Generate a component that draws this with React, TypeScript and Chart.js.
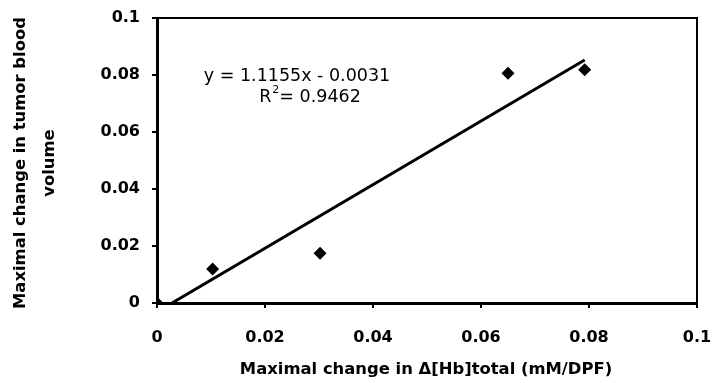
import React, { useEffect, useRef } from "react";
import { Chart, registerables } from "chart.js";

Chart.register(...registerables);

const xValues = [0, 0.0103, 0.0302, 0.065, 0.0792];
const yValues = [0, 0.0119, 0.0175, 0.0806, 0.0818];
const slope = 1.1155;
const intercept = -0.0031;
const equationText = "y = 1.1155x - 0.0031";
const r2Value = "= 0.9462";
const xTitle = "Maximal change in \u0394[Hb]total (mM/DPF)";
const yTitleLines = ["Maximal change in tumor blood", "volume"];

const FONT = "'DejaVu Sans', 'Liberation Sans', Arial, sans-serif";

const fmt = (v: any) => (v === 0 ? "0" : v >= 0.1 ? "0.1" : Number(v).toFixed(2));

export default function App() {
  const ref = useRef<HTMLCanvasElement>(null);
  useEffect(() => {
    if (!ref.current) return;
    const points = xValues.map((x, i) => ({ x, y: yValues[i] }));
    const xStart = -intercept / slope;
    const xEnd = Math.max(...xValues);
    const trend = [
      { x: xStart, y: slope * xStart + intercept },
      { x: xEnd, y: slope * xEnd + intercept },
    ];
    const textPlugin = {
      id: "texts",
      afterDraw(chart: any) {
        const ctx = chart.ctx;
        const { left, right, top, bottom } = chart.chartArea;
        ctx.save();
        ctx.strokeStyle = "#000";
        ctx.lineWidth = 2;
        ctx.beginPath();
        ctx.moveTo(left, top);
        ctx.lineTo(right, top);
        ctx.lineTo(right, bottom);
        ctx.stroke();
        ctx.fillStyle = "#000";
        // equation
        ctx.font = `17.5px ${FONT}`;
        ctx.textAlign = "center";
        ctx.textBaseline = "alphabetic";
        ctx.fillText(equationText, 297, 81);
        ctx.textAlign = "left";
        const rw = ctx.measureText("R").width;
        const vw = ctx.measureText(r2Value).width;
        const total = rw + 8 + vw;
        const sx = 310 - total / 2;
        ctx.fillText("R", sx, 102);
        ctx.fillText(r2Value, sx + rw + 8, 102);
        ctx.font = `11px ${FONT}`;
        ctx.fillText("2", sx + rw + 1, 93);
        // x title
        ctx.font = `bold 16.4px ${FONT}`;
        ctx.textAlign = "center";
        ctx.fillText(xTitle, 426, 374);
        // y title
        ctx.translate(0, 163);
        ctx.rotate(-Math.PI / 2);
        ctx.fillText(yTitleLines[0], 0, 25);
        ctx.fillText(yTitleLines[1], 0, 54);
        ctx.restore();
      },
    };
    const chart = new Chart(ref.current, {
      type: "scatter",
      data: {
        datasets: [
          {
            data: points,
            pointStyle: "rectRot",
            pointRadius: 6.5,
            backgroundColor: "#000",
            borderColor: "#000",
            borderWidth: 0,
            showLine: false,
          },
          {
            type: "line",
            data: trend,
            borderColor: "#000",
            borderWidth: 3,
            pointRadius: 0,
            fill: false,
          } as any,
        ],
      },
      options: {
        animation: false,
        responsive: false,
        layout: { padding: { left: 0, right: 15, top: 18, bottom: 0 } },
        plugins: { legend: { display: false }, tooltip: { enabled: false } },
        scales: {
          x: {
            type: "linear",
            min: 0,
            max: 0.1,
            afterFit: (s: any) => {
              s.height = 80;
              s.paddingLeft = 0;
              s.paddingRight = 0;
            },
            ticks: {
              stepSize: 0.02,
              color: "#000",
              padding: 20,
              maxRotation: 0,
              font: { family: FONT, size: 16, weight: "bold" },
              callback: fmt,
            },
            grid: { drawOnChartArea: false, drawTicks: true, tickLength: 5, color: "#000", lineWidth: 2 },
            border: { color: "#000", width: 3 },
          },
          y: {
            type: "linear",
            min: 0,
            max: 0.1,
            afterFit: (s: any) => {
              s.width = 157;
              s.paddingTop = 0;
              s.paddingBottom = 0;
            },
            ticks: {
              stepSize: 0.02,
              color: "#000",
              padding: 12,
              font: { family: FONT, size: 16, weight: "bold" },
              callback: fmt,
            },
            grid: { drawOnChartArea: false, drawTicks: true, tickLength: 5, color: "#000", lineWidth: 2 },
            border: { color: "#000", width: 3 },
          },
        },
      },
      plugins: [textPlugin],
    });
    return () => chart.destroy();
  }, []);
  return (
    <div style={{ position: "fixed", left: 0, top: 0, width: 712, height: 383, background: "#fff" }}>
      <canvas ref={ref} width={712} height={383} style={{ width: 712, height: 383 }} />
    </div>
  );
}
